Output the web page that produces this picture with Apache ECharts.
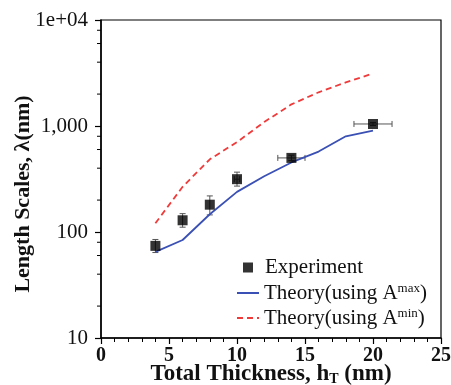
<!DOCTYPE html>
<html>
<head>
<meta charset="utf-8">
<script src="https://cdn.jsdelivr.net/npm/echarts@6/dist/echarts.min.js"></script>
<style>
  html, body { margin: 0; padding: 0; background: #fff; }
  #chart { width: 451px; height: 385px; }
</style>
</head>
<body>
<div id="chart"></div>
<script>
// measured points
const thickness = [4, 6, 8, 10, 14, 20];
const experiment = [74, 129, 181, 315, 500, 1045];
const expLow = [64, 111, 145, 271, 472, 1010];
const expHigh = [85, 149, 219, 367, 530, 1080];
const expXErr = [0, 0, 0, 0.2, 1, 1.4];

// theory curves
const theoryX = [4, 6, 8, 10, 12, 14, 16, 18, 20];
const theoryMax = [65, 84, 147, 239, 336, 453, 574, 800, 906];
const theoryMin = [121, 267, 485, 705, 1090, 1600, 2080, 2580, 3126];

const yTickValues = [10, 100, 1000, 10000];
const yTickLabels = ['10', '100', '1,000', '1e+04'];
const yMinorTicks = [20, 40, 60, 80, 200, 400, 600, 800, 2000, 4000, 6000, 8000];

const font = 'Liberation Serif';

const el = document.getElementById('chart');
const myChart = echarts.init(el);

const errData = thickness.map((x, i) => [x, experiment[i], expLow[i], expHigh[i], expXErr[i]]);

const lineLegend = (name, top, sup) => ({
  data: [name],
  left: 236, top: top, padding: 0,
  itemWidth: 22, itemHeight: 14,
  itemStyle: { opacity: 0 },
  formatter: 'Theory(using A{s|' + sup + '})',
  textStyle: { fontFamily: font, fontSize: 21, color: '#111', lineHeight: 20,
    rich: { s: { fontFamily: font, fontSize: 13, padding: [0, 0, 9, 0], color: '#111' } } }
});

myChart.setOption({
  animation: false,
  grid: {
    left: 101, right: 10, top: 20, bottom: 47,
    outerBoundsMode: 'none',
    containLabel: false,
    show: true, borderColor: '#000', borderWidth: 1.2
  },
  xAxis: {
    type: 'value',
    min: 0, max: 25, interval: 5,
    name: 'Total Thickness, h{sub|T} (nm)',
    nameLocation: 'middle',
    nameMoveOverlap: false,
    nameGap: 24,
    nameTextStyle: {
      fontFamily: font, fontWeight: 'bold', fontSize: 23, color: '#111',
      rich: {
        sub: { fontFamily: font, fontWeight: 'bold', fontSize: 14, padding: [10, 0, 0, 0], color: '#111' }
      }
    },
    axisLine: { lineStyle: { color: '#000', width: 1.5 } },
    axisTick: { length: 6, lineStyle: { color: '#000', width: 1.2 } },
    minorTick: { show: true, splitNumber: 5, length: 4, lineStyle: { color: '#000', width: 1 } },
    splitLine: { show: false },
    axisLabel: { margin: 8, fontFamily: font, fontWeight: 'bold', fontSize: 20, color: '#111' }
  },
  yAxis: {
    type: 'log',
    min: 10, max: 10000, logBase: 10,
    name: 'Length Scales, λ(nm)',
    nameLocation: 'middle',
    nameMoveOverlap: false,
    nameGap: 67,
    nameTextStyle: {
      fontFamily: font, fontWeight: 'bold', fontSize: 22, color: '#111',
      padding: [0, 30, 0, 0]
    },
    axisLine: { show: true, lineStyle: { color: '#000', width: 1.5 } },
    axisTick: { length: 6, lineStyle: { color: '#000', width: 1.2 } },
    splitLine: { show: false },
    axisLabel: {
      margin: 13, fontFamily: font, fontSize: 21, color: '#111',
      formatter: function (v) {
        const i = yTickValues.indexOf(Math.round(v));
        return i >= 0 ? yTickLabels[i] : '';
      }
    }
  },
  legend: [
    {
      data: [{ name: 'Experiment', icon: 'rect' }],
      left: 243, top: 257, padding: 0,
      itemWidth: 10, itemHeight: 10,
      formatter: '{p|}{name}',
      textStyle: { fontFamily: font, fontSize: 21, color: '#111', lineHeight: 20,
        rich: { p: { width: 7 } } }
    },
    lineLegend('Theory(using A^max)', 282, 'max'),
    lineLegend('Theory(using A^min)', 307, 'min')
  ],
  series: [
    {
      name: 'Theory(using A^min)',
      type: 'line',
      symbol: 'none',
      data: theoryX.map((x, i) => [x, theoryMin[i]]),
      lineStyle: { color: '#f03a3a', width: 1.8, type: [6, 4] },
      itemStyle: { color: '#f03a3a' }
    },
    {
      name: 'Theory(using A^max)',
      type: 'line',
      symbol: 'none',
      data: theoryX.map((x, i) => [x, theoryMax[i]]),
      lineStyle: { color: '#3a50b4', width: 1.8 },
      itemStyle: { color: '#3a50b4' }
    },
    {
      name: 'errorbars',
      type: 'custom',
      data: errData,
      z: 3,
      renderItem: function (params, api) {
        const x = api.value(0), y = api.value(1);
        const lo = api.coord([x, api.value(2)]);
        const hi = api.coord([x, api.value(3)]);
        const dx = api.value(4);
        const c = 3;
        const style = { stroke: '#555', lineWidth: 1 };
        const children = [
          { type: 'line', shape: { x1: lo[0], y1: lo[1], x2: hi[0], y2: hi[1] }, style },
          { type: 'line', shape: { x1: lo[0] - c, y1: lo[1], x2: lo[0] + c, y2: lo[1] }, style },
          { type: 'line', shape: { x1: hi[0] - c, y1: hi[1], x2: hi[0] + c, y2: hi[1] }, style }
        ];
        if (dx > 0) {
          const l = api.coord([x - dx, y]);
          const r = api.coord([x + dx, y]);
          children.push(
            { type: 'line', shape: { x1: l[0], y1: l[1], x2: r[0], y2: r[1] }, style },
            { type: 'line', shape: { x1: l[0], y1: l[1] - c, x2: l[0], y2: l[1] + c }, style },
            { type: 'line', shape: { x1: r[0], y1: r[1] - c, x2: r[0], y2: r[1] + c }, style }
          );
        }
        return { type: 'group', children };
      }
    },
    {
      name: 'Experiment',
      type: 'scatter',
      symbol: 'rect',
      symbolSize: 10,
      z: 4,
      data: thickness.map((x, i) => [x, experiment[i]]),
      itemStyle: { color: '#000' }
    },
    {
      name: 'minorTicksY',
      type: 'custom',
      clip: false,
      silent: true,
      data: yMinorTicks.map(v => [0, v]),
      renderItem: function (params, api) {
        const p = api.coord([0, api.value(1)]);
        return {
          type: 'line',
          shape: { x1: p[0] - 4, y1: p[1], x2: p[0], y2: p[1] },
          style: { stroke: '#000', lineWidth: 1 }
        };
      }
    }
  ]
});
</script>
</body>
</html>
